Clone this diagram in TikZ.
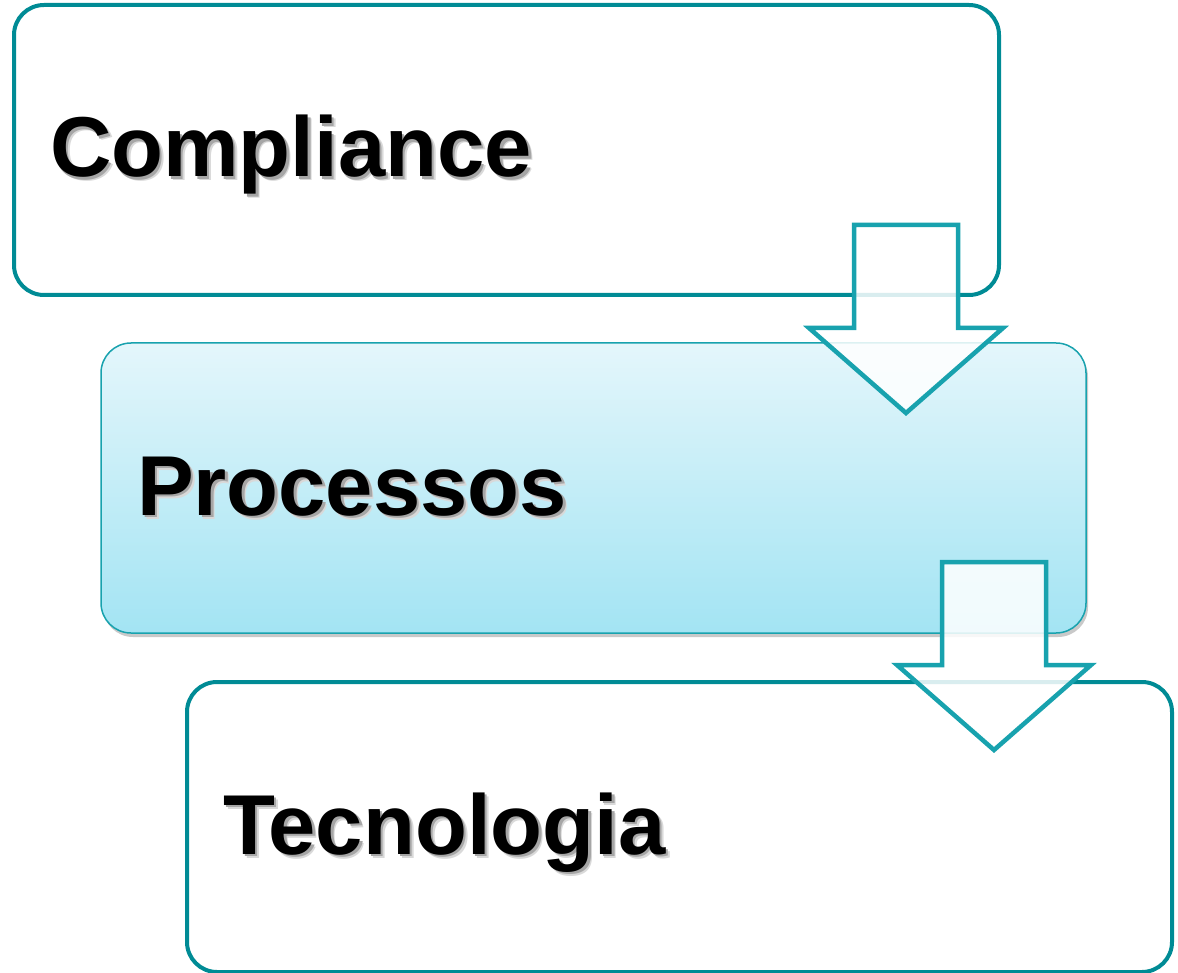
\documentclass[tikz,border=0pt]{standalone}
\usepackage{fontspec}
\setmainfont{Liberation Sans}
\usetikzlibrary{calc,shadows}
\definecolor{tealdark}{HTML}{008B95}
\definecolor{teallight}{HTML}{18A2AE}
\definecolor{cyantop}{HTML}{E4F6FB}
\definecolor{cyanbot}{HTML}{A3E4F3}
\newcommand{\shadowed}[1]{\makebox[0pt][l]{\hspace{4pt}\raisebox{-4pt}{\textcolor{black!15}{#1}}}\makebox[0pt][l]{\hspace{2.5pt}\raisebox{-2.5pt}{\textcolor{black!35}{#1}}}#1}

\begin{document}
\begin{tikzpicture}[x=1pt,y=-1pt,
	level/.style={rounded corners=30pt, minimum width=985pt, minimum height=290pt, anchor=north west, outer sep=0pt,
		inner xsep=36pt, text width=913pt, align=left, text height=54pt, text depth=0pt,
		font=\fontsize{85pt}{96pt}\selectfont\bfseries},
	plain/.style={level, draw=tealdark, line width=4pt, fill=white},
	shaded/.style={level, draw=teallight, line width=1.5pt, top color=cyantop, bottom color=cyanbot,
		drop shadow={shadow xshift=2pt, shadow yshift=-4pt, opacity=0.3, fill=black!70}},
	arrowbox/.style={draw=teallight, line width=4.5pt, fill=white, fill opacity=0.85, miter limit=10},
	pics/downarrow/.style={code={
		\draw[arrowbox] (-52,0) -- (52,0) -- (52,103) -- (97,103) -- (0,188) -- (-97,103) -- (-52,103) -- cycle;
	}}]
	\useasboundingbox (0,0) rectangle (1178,973);
	\node[plain] (comp) at (14,5) {\shadowed{Compliance}};
	\node[shaded] (proc) at (101,343) {\shadowed{Processos}};
	\node[plain] (tec) at (187,682) {\shadowed{Tecnologia}};
	\pic at ($(comp.south east)+(-93,-70)$) {downarrow};
	\pic at ($(proc.south east)+(-92,-71)$) {downarrow};
\end{tikzpicture}
\end{document}
